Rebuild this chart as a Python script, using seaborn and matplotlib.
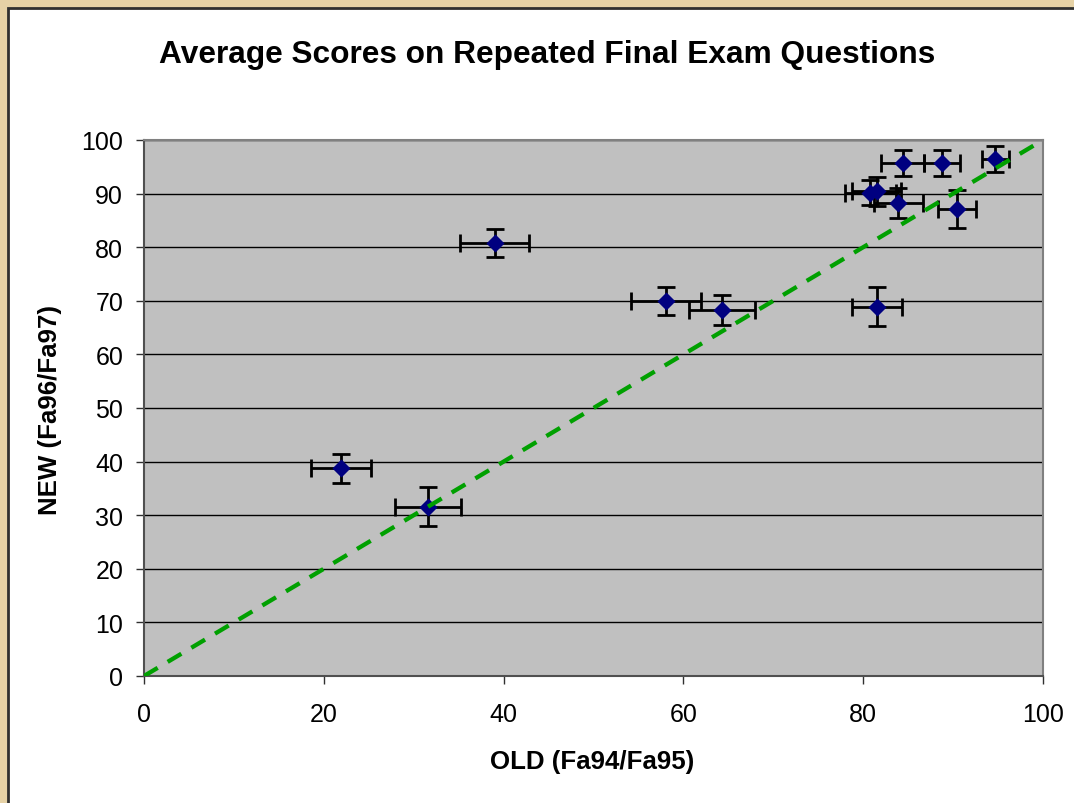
import numpy as np
import pandas as pd
import matplotlib
matplotlib.use("Agg")
import matplotlib.pyplot as plt
from matplotlib.patches import Rectangle
import seaborn as sns

# Average score per question, old exams (Fa94/Fa95) vs new exams (Fa96/Fa97)
old_score = [21.9, 31.6, 39.0, 58.1, 64.3, 81.5, 80.8, 81.5, 83.9, 84.4, 88.8, 90.4, 94.7]
new_score = [38.8, 31.6, 80.8, 70.0, 68.2, 68.9, 90.2, 90.4, 88.3, 95.7, 95.7, 87.1, 96.5]
old_err = [3.3, 3.7, 3.8, 3.9, 3.7, 2.8, 2.8, 2.7, 2.7, 2.4, 2.0, 2.1, 1.5]
new_err = [2.7, 3.7, 2.6, 2.6, 2.8, 3.6, 2.4, 2.7, 2.8, 2.4, 2.4, 3.5, 2.4]
ref_line = [0, 100]

df = pd.DataFrame({"old": old_score, "new": new_score,
                   "old_err": old_err, "new_err": new_err})

sns.set_theme(style="white")
plt.rcParams["font.family"] = ["Liberation Sans", "DejaVu Sans"]
plt.rcParams["text.color"] = "black"

W, H = 1074, 804
fig = plt.figure(figsize=(W / 100, H / 100), dpi=100)
fig.patch.set_facecolor("#E6D2A6")

# white chart panel with dark border
fig.patches.append(Rectangle((8 / W, -0.1), 1.2, (H - 9) / H + 0.1,
                             transform=fig.transFigure, facecolor="white",
                             edgecolor="#303030", linewidth=2, zorder=0))

ax = fig.add_axes([144 / W, (H - 677) / H, (1043 - 144) / W, (677 - 141) / H])
ax.set_zorder(2)
ax.set_facecolor("#C0C0C0")

# horizontal gridlines
ax.set_xlim(0, 100)
ax.set_ylim(0, 100)
ax.set_xticks(np.arange(0, 101, 20))
ax.set_yticks(np.arange(0, 101, 10))
ax.yaxis.grid(True, color="black", linewidth=1)
ax.set_axisbelow(True)

ax.errorbar(df["old"], df["new"], xerr=df["old_err"], yerr=df["new_err"],
            fmt="none", ecolor="black", elinewidth=2, capsize=6.5, capthick=2,
            zorder=2)
sns.scatterplot(data=df, x="old", y="new", marker="D", s=85, color="#000080",
                edgecolor="#000080", linewidth=0, ax=ax, zorder=3, legend=False)
sns.lineplot(x=ref_line, y=ref_line, color="#00A000", linewidth=3.1,
             linestyle=(0, (3.7, 2.7)), ax=ax, zorder=4)

for s in ["top", "right"]:
    ax.spines[s].set_color("#808080")
    ax.spines[s].set_linewidth(1.5)
for s in ["left", "bottom"]:
    ax.spines[s].set_color("#505050")
    ax.spines[s].set_linewidth(1.5)

ax.tick_params(axis="both", which="both", direction="out", length=6, width=1,
               color="#303030", labelsize=18, labelcolor="black",
               left=True, bottom=True)
ax.tick_params(axis="x", pad=13)
ax.tick_params(axis="y", pad=9)
ax.set_xlabel("")
ax.set_ylabel("")

fig.text(547 / W, 1 - 55 / H, "Average Scores on Repeated Final Exam Questions",
         ha="center", va="center", fontsize=22.8, fontweight="bold", color="black")
fig.text(592 / W, 1 - 762 / H, "OLD (Fa94/Fa95)", ha="center", va="center",
         fontsize=18.6, fontweight="bold", color="black")
fig.text(50 / W, 1 - 410 / H, "NEW (Fa96/Fa97)", ha="center", va="center",
         fontsize=18.6, fontweight="bold", rotation=90, color="black")

fig.savefig("out.png", dpi=100, facecolor=fig.get_facecolor())
